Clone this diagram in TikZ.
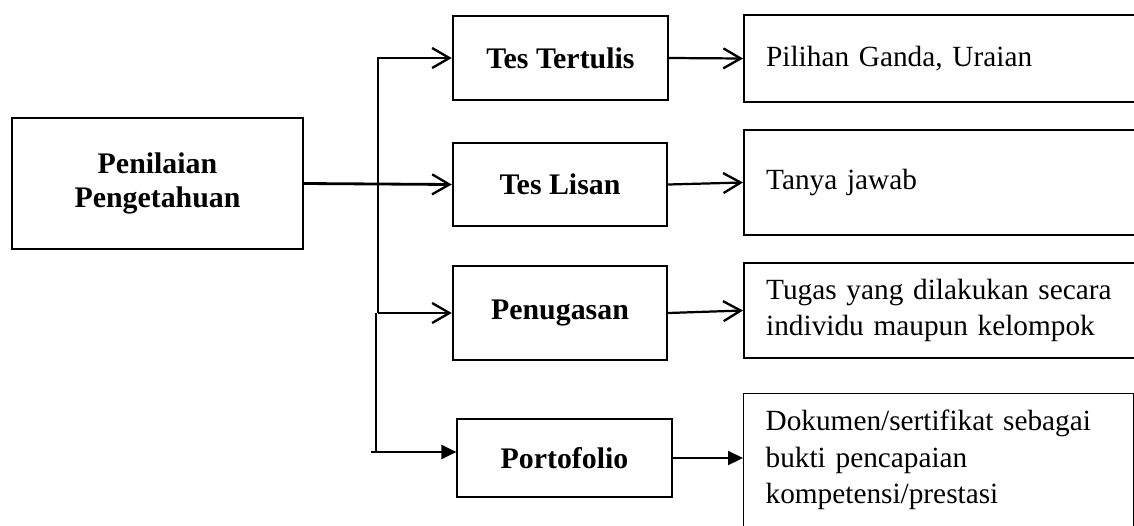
\documentclass[tikz,border=0pt]{standalone}
\usepackage{fontspec}
\setmainfont{Liberation Serif}
\usetikzlibrary{arrows.meta,positioning,calc}

\begin{document}
\begin{tikzpicture}[x=0.03cm, y=-0.03cm,
		every node/.style={font=\fontsize{25}{30}\selectfont},
		kotak/.style={rectangle, draw, line width=2.1pt, align=center, font=\fontsize{25.5}{29}\selectfont\bfseries},
		isi/.style={rectangle, draw, line width=2pt, anchor=west, align=left, text width=12cm, inner xsep=0.66cm, font=\fontsize{25}{31}\selectfont},
		garis/.style={line width=1.9pt},
		panah/.style={garis, -{Straight Barb[length=0.52cm, width=0.6cm, line width=2pt]}},
		panahpenuh/.style={garis, -{Triangle[length=0.45cm, width=0.42cm]}}]
				\clip (0,0) rectangle (1134,525);
				
				\node[kotak, minimum width=8.73cm, minimum height=3.93cm] (nilai) at (157.5,183.5) {Penilaian\\Pengetahuan};
				\node[kotak, minimum width=6.45cm, minimum height=2.52cm] (tertulis) at (560.5,58) {Tes Tertulis};
				\node[kotak, minimum width=6.42cm, minimum height=2.49cm] (lisan) at (560,184.5) {Tes Lisan};
				\node[kotak, minimum width=6.42cm, minimum height=2.82cm] (tugas) at (560,313) {Penugasan};
				\node[kotak, line width=1pt, minimum width=6.45cm, minimum height=2.34cm] (porto) at (564.5,458) {Portofolio};
				
				\node[isi, minimum height=2.61cm] (pilihan) at (743,58.5) {Pilihan Ganda, Uraian};
				\node[isi, minimum height=3.15cm] (tanya) at (743,182.5) {Tanya jawab};
				\node[isi, minimum height=2.85cm] (individu) at (743,310.5) {Tugas yang dilakukan secara\\individu maupun kelompok};
				\node[isi, line width=1.1pt, anchor=north west, text width=10.38cm, inner ysep=0.5cm, text depth=5cm] (dokumen) at (743,393) {Dokumen/sertifikat sebagai\\bukti pencapaian\\kompetensi/prestasi};
				
				\coordinate (cabang) at (378,0);
				\coordinate (cabang2) at (376,0);
				\coordinate (ujung) at (371,452);
				
				\draw[panah, line width=2.4pt] (nilai.east) -- (lisan.west);
				\draw[panah] (cabang |- tugas.west) |- (tertulis.west);
				\draw[panah, line width=1.5pt] (cabang |- tugas.west) -- (tugas.west);
				\draw[garis, line width=2.4pt] (cabang2 |- tugas.west) -- (cabang2 |- ujung);
				\draw[panahpenuh] (ujung) -- (ujung -| porto.west);
				
				\draw[panah] (tertulis.east) -- (pilihan.west);
				\draw[panah] (lisan.east) -- (tanya.west);
				\draw[panah] (tugas.east) -- (individu.west);
				\draw[panahpenuh] (porto.east) -- (porto.east -| dokumen.west);
			\end{tikzpicture}
\end{document}
